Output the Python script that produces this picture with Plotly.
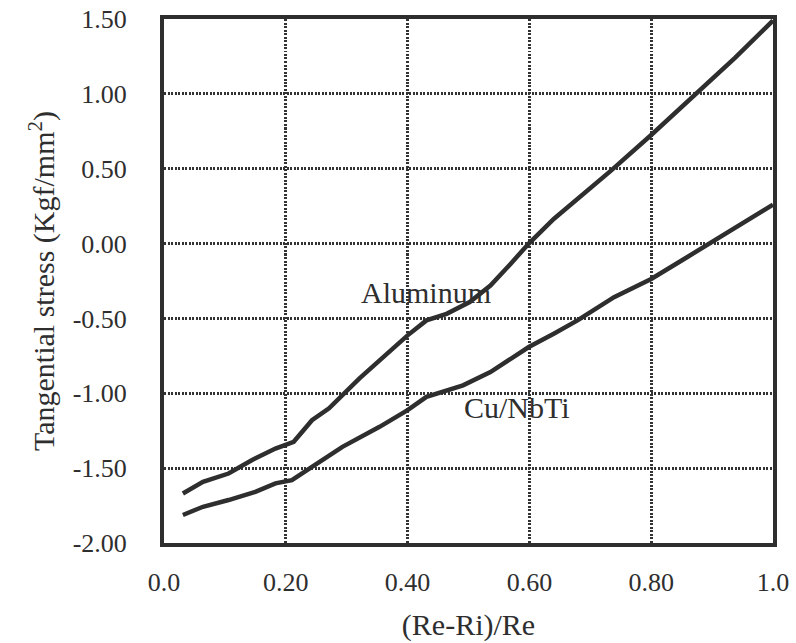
import plotly.graph_objects as go

# Data
al_x = [0.031, 0.064, 0.106, 0.144, 0.183, 0.213, 0.243, 0.271, 0.321, 0.354,
        0.400, 0.431, 0.464, 0.502, 0.536, 0.569, 0.599, 0.640, 0.690, 0.734,
        0.800, 0.872, 0.938, 1.000]
al_y = [-1.669, -1.591, -1.536, -1.447, -1.369, -1.324, -1.180, -1.100, -0.900, -0.780,
        -0.613, -0.513, -0.469, -0.391, -0.280, -0.136, 0.000, 0.164, 0.331, 0.487,
        0.725, 0.998, 1.242, 1.490]

cu_x = [0.031, 0.064, 0.106, 0.150, 0.183, 0.210, 0.243, 0.293, 0.354, 0.400,
        0.431, 0.491, 0.536, 0.599, 0.640, 0.679, 0.739, 0.800, 0.850, 0.899,
        0.960, 1.000]
cu_y = [-1.813, -1.758, -1.713, -1.658, -1.602, -1.580, -1.491, -1.358, -1.224, -1.113,
        -1.024, -0.947, -0.858, -0.691, -0.602, -0.513, -0.358, -0.236, -0.113, 0.009,
        0.153, 0.260]

x_tick_vals = [0.0, 0.2, 0.4, 0.6, 0.8, 1.0]
x_tick_text = ["0.0", "0.20", "0.40", "0.60", "0.80", "1.0"]
y_tick_vals = [1.5, 1.0, 0.5, 0.0, -0.5, -1.0, -1.5, -2.0]
y_tick_text = ["1.50", "1.00", "0.50", "0.00", "-0.50", "-1.00", "-1.50", "-2.00"]

labels = ["Aluminum", "Cu/NbTi"]
label_x = [0.431, 0.579]
label_y = [-0.327, -1.093]

FONT = "Liberation Serif"
INK = "#2e2e2e"

fig = go.Figure()
fig.add_trace(go.Scatter(x=al_x, y=al_y, mode="lines", name=labels[0],
                         line=dict(color=INK, width=4.5), showlegend=False))
fig.add_trace(go.Scatter(x=cu_x, y=cu_y, mode="lines", name=labels[1],
                         line=dict(color=INK, width=4.5), showlegend=False))

for t, xx, yy in zip(labels, label_x, label_y):
    fig.add_annotation(x=xx, y=yy, text=t, showarrow=False,
                       font=dict(family=FONT, size=30, color=INK),
                       xanchor="center", yanchor="middle")

grid_style = dict(showgrid=True, gridcolor="#333333", gridwidth=2.5, griddash="2px,1.5px")

fig.update_layout(
    width=796, height=643,
    margin=dict(l=164, r=23, t=19, b=100),
    paper_bgcolor="white", plot_bgcolor="white",
    font=dict(family=FONT, color=INK),
)
fig.update_xaxes(
    range=[0, 1], tickvals=x_tick_vals, ticktext=x_tick_text,
    tickfont=dict(family=FONT, size=26, color=INK),
    ticks="outside", ticklen=13, tickcolor="rgba(0,0,0,0)",
    showline=True, linecolor=INK, linewidth=4, mirror=True, zeroline=False,
    automargin=False,
    title=dict(text="(Re-Ri)/Re", font=dict(family=FONT, size=30, color=INK), standoff=19),
    **grid_style,
)
fig.update_yaxes(
    range=[-2, 1.5], tickvals=y_tick_vals, ticktext=y_tick_text,
    tickfont=dict(family=FONT, size=26, color=INK),
    ticks="outside", ticklen=28, tickcolor="rgba(0,0,0,0)",
    showline=True, linecolor=INK, linewidth=4, mirror=True, zeroline=False,
    automargin=False,
    title=dict(text="Tangential stress (Kgf/mm<sup>2</sup>)",
               font=dict(family=FONT, size=30, color=INK), standoff=10),
    **grid_style,
)

fig.write_html("out.html")
